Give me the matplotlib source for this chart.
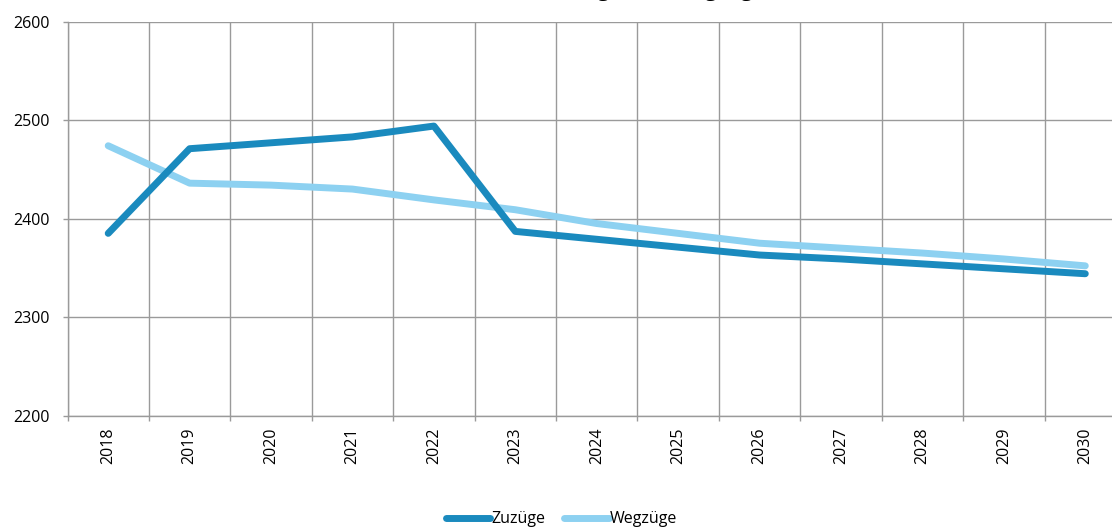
import matplotlib
matplotlib.use('Agg')
import matplotlib.pyplot as plt

plt.rcParams['font.family'] = ['Open Sans', 'DejaVu Sans']

# ── Daten ───────────────────────────────────────────────
jahre = ['2018', '2019', '2020', '2021', '2022', '2023', '2024',
         '2025', '2026', '2027', '2028', '2029', '2030']
zuzuege = [2385, 2471, 2477, 2483, 2494, 2387, 2379, 2371, 2363,
           2359, 2354, 2349, 2344]
wegzuege = [2474, 2436, 2434, 2430, 2419, 2409, 2395, 2385, 2375,
            2370, 2365, 2359, 2352]

C_ZU = '#1a8abe'
C_WEG = '#8dd1f1'
C_GRID = '#9a9a9a'

fig = plt.figure(figsize=(11.12, 5.30), dpi=100)
# Achse reicht rechts über den Bildrand hinaus (wie im Original abgeschnitten)
ax = fig.add_axes([67.5 / 1112, 114.5 / 530, (1126 - 67.5) / 1112, (415.5 - 21.7) / 530])

x = list(range(len(jahre)))
ax.plot(x, zuzuege, color=C_ZU, lw=5.0, solid_capstyle='round',
        solid_joinstyle='round', label='Zuzüge', zorder=3)
ax.plot(x, wegzuege, color=C_WEG, lw=5.0, solid_capstyle='round',
        solid_joinstyle='round', label='Wegzüge', zorder=2)

ax.set_xlim(-0.5, len(jahre) - 0.5)
ax.set_ylim(2200, 2600)
ax.set_yticks([2200, 2300, 2400, 2500, 2600])

# Kategorien-Beschriftung in der Mitte, Striche/Gitter an den Grenzen
ax.set_xticks(x)
ax.set_xticklabels(jahre, rotation=90, fontsize=11.5)
ax.tick_params(axis='x', which='major', length=0, pad=9)
ax.set_xticks([i - 0.5 for i in range(len(jahre) + 1)], minor=True)
ax.tick_params(axis='x', which='minor', length=3.6, color=C_GRID, width=1)
ax.tick_params(axis='y', length=3.6, color=C_GRID, width=1, labelsize=11.5, pad=9.5)

ax.grid(True, axis='y', color=C_GRID, lw=1)
ax.grid(True, axis='x', which='minor', color=C_GRID, lw=1)
ax.set_axisbelow(True)

for s in ['top', 'right']:
    ax.spines[s].set_visible(False)
for s in ['left', 'bottom']:
    ax.spines[s].set_color(C_GRID)
    ax.spines[s].set_linewidth(1)

# Titel oben abgeschnitten (nur Unterlängen sichtbar)
fig.text(0.59, 1.0 + 4.0 / 530, 'Zuzüge und Wegzüge', ha='center',
         va='baseline', fontsize=15, fontweight='bold')

fig.legend(loc='lower center', bbox_to_anchor=(0.505, -0.022), ncol=2,
           frameon=False, fontsize=11.5, handlelength=2.8, handletextpad=0.05,
           columnspacing=1.2)

fig.savefig('out.png', dpi=100)
